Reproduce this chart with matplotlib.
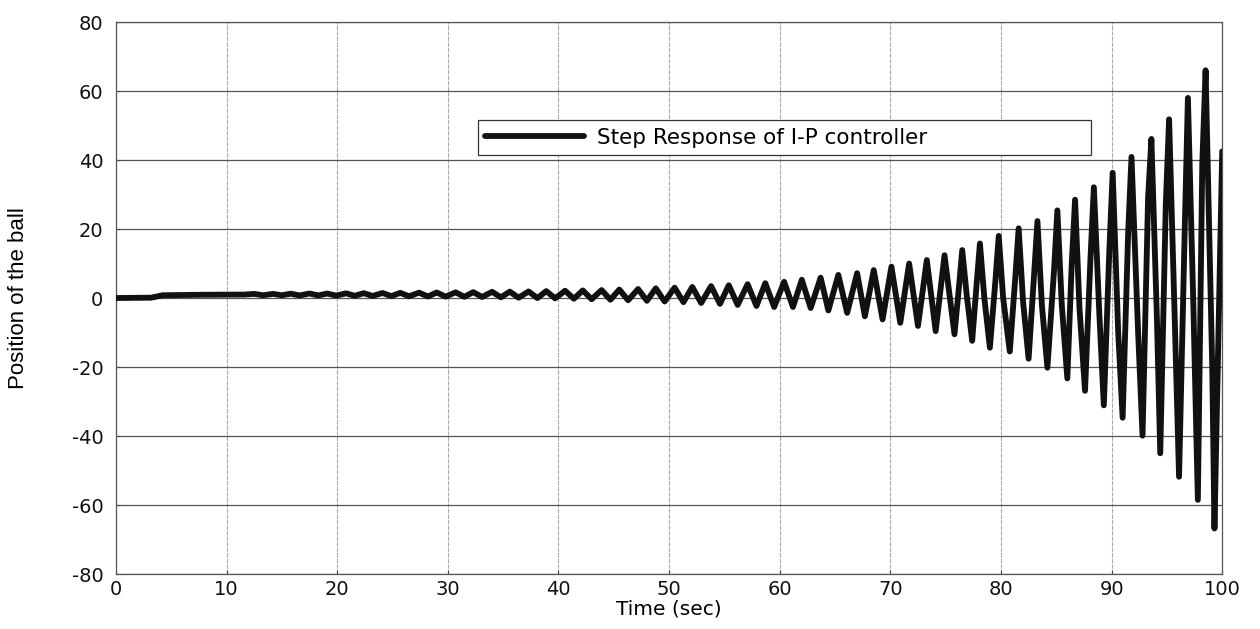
import matplotlib
matplotlib.use("Agg")
import matplotlib.pyplot as plt
import numpy as np

plt.rcParams["axes.unicode_minus"] = False

# step part before the oscillation becomes visible
start_t = [0.0, 3.2, 4.2, 8.0, 11.6]
start_y = [0.0, 0.1, 0.8, 0.95, 1.0]

# upper turning points of the response
peak_t = [12.5, 14.2, 15.8, 17.5, 19.1, 20.8, 22.4, 24.1, 25.7, 27.4,
          29.0, 30.7, 32.3, 34.0, 35.6, 37.3, 38.9, 40.6, 42.2, 43.9,
          45.5, 47.2, 48.8, 50.5, 52.1, 53.8, 55.4, 57.1, 58.7, 60.4,
          62.0, 63.7, 65.3, 67.0, 68.5, 70.1, 71.7, 73.3, 74.9, 76.5,
          78.1, 79.8, 81.6, 83.3, 85.1, 86.7, 88.4, 90.1, 91.8, 93.6,
          95.2, 96.9, 98.5]
peak_y = [1.2, 1.2, 1.25, 1.3, 1.3, 1.35, 1.4, 1.45, 1.5, 1.55,
          1.6, 1.65, 1.7, 1.8, 1.85, 1.9, 2.0, 2.1, 2.2, 2.3,
          2.45, 2.6, 2.8, 3.0, 3.2, 3.45, 3.7, 4.0, 4.3, 4.7,
          5.3, 5.9, 6.7, 7.2, 8.1, 9.1, 10.0, 11.0, 12.4, 13.9,
          15.8, 18.0, 20.2, 22.3, 25.4, 28.5, 32.1, 36.3, 40.9, 46.1,
          51.8, 58.0, 66.0]

# lower turning points
trough_t = [13.3, 15.0, 16.6, 18.3, 19.9, 21.6, 23.2, 24.9, 26.5, 28.2,
            29.8, 31.5, 33.1, 34.8, 36.4, 38.1, 39.7, 41.4, 43.0, 44.7,
            46.3, 48.0, 49.6, 51.3, 52.9, 54.6, 56.2, 57.9, 59.5, 61.2,
            62.8, 64.4, 66.1, 67.7, 69.3, 70.9, 72.5, 74.1, 75.8, 77.4,
            79.0, 80.8, 82.5, 84.2, 86.0, 87.6, 89.3, 91.0, 92.8, 94.4,
            96.1, 97.8, 99.3]
trough_y = [0.8, 0.8, 0.75, 0.75, 0.7, 0.65, 0.6, 0.55, 0.5, 0.45,
            0.4, 0.35, 0.3, 0.2, 0.1, 0.0, -0.1, -0.2, -0.35, -0.5,
            -0.65, -0.8, -1.0, -1.2, -1.45, -1.7, -2.0, -2.3, -2.6, -2.6,
            -2.9, -3.6, -4.3, -5.3, -6.2, -7.2, -8.1, -9.6, -10.5, -12.4,
            -14.4, -15.5, -17.6, -20.2, -23.3, -26.9, -31.1, -34.7, -39.9, -45.0,
            -51.8, -58.5, -66.8]

# kinks ("shoulders") on the flanks of the late, large swings
shoulder_t = [76.2, 76.9, 77.8, 78.5, 79.5, 80.2, 81.3, 82.0, 83.0, 83.7,
              84.8, 85.5, 86.4, 87.1, 88.1, 88.9, 89.8, 90.6, 91.5, 92.4,
              93.3, 94.1, 94.9, 95.7, 96.6, 97.4, 98.2, 99.1]
shoulder_y = [3.0, 1.0, 4.0, 0.0, 5.0, 0.0, 6.0, -1.0, 7.0, -2.0,
              8.0, -2.0, 10.0, -3.0, 12.0, -5.0, 14.0, -10.0, 19.0, -10.0,
              29.0, -6.0, 27.0, -5.0, 18.0, -3.0, 39.0, -20.0]

end_t = [100.0]
end_y = [42.5]

x_ticks = [0, 10, 20, 30, 40, 50, 60, 70, 80, 90, 100]
y_ticks = [-80, -60, -40, -20, 0, 20, 40, 60, 80]

t = np.concatenate([start_t, peak_t, trough_t, shoulder_t, end_t])
y = np.concatenate([start_y, peak_y, trough_y, shoulder_y, end_y])
order = np.argsort(t)
t, y = t[order], y[order]

fig = plt.figure(figsize=(12.6, 6.29), dpi=100)
ax = fig.add_axes([0.092, 0.0874, 0.878, 0.8776])

ax.plot(t, y, color="#111111", linewidth=4.2, solid_joinstyle="round",
        solid_capstyle="round", label="Step Response of I-P controller", zorder=3)

ax.set_xlim(0, 100)
ax.set_ylim(-80, 80)
ax.set_xticks(x_ticks)
ax.set_yticks(y_ticks)
ax.tick_params(direction="in", length=3, width=0.8, colors="#444444",
               labelcolor="#111111", labelsize=14)
ax.tick_params(axis="y", pad=9)
ax.tick_params(axis="x", pad=4)
for lab in ax.get_xticklabels() + ax.get_yticklabels():
    lab.set_family("DejaVu Sans")

ax.yaxis.grid(True, color="#555555", linewidth=0.9, zorder=0)
ax.xaxis.grid(True, color="#aaaaaa", linewidth=0.8, linestyle=(0, (4, 1)), zorder=0)
for sp in ax.spines.values():
    sp.set_color("#555555")
    sp.set_linewidth(0.9)

ax.set_xlabel("Time (sec)", family="DejaVu Sans", fontsize=14.5, labelpad=1)
ax.set_ylabel("Position of the ball", family="Liberation Sans", fontsize=16)
ax.yaxis.set_label_coords(-0.079, 0.5)

leg = ax.legend(loc="lower left", bbox_to_anchor=(0.327, 0.759, 0.554, 0.067),
                mode="expand", borderaxespad=0, handlelength=4.6, handletextpad=0.6,
                fancybox=False, framealpha=1, edgecolor="#333333",
                borderpad=0.35, prop={"family": "DejaVu Sans", "size": 15.5})
leg.get_frame().set_linewidth(0.9)

fig.savefig("out.png", dpi=100)
